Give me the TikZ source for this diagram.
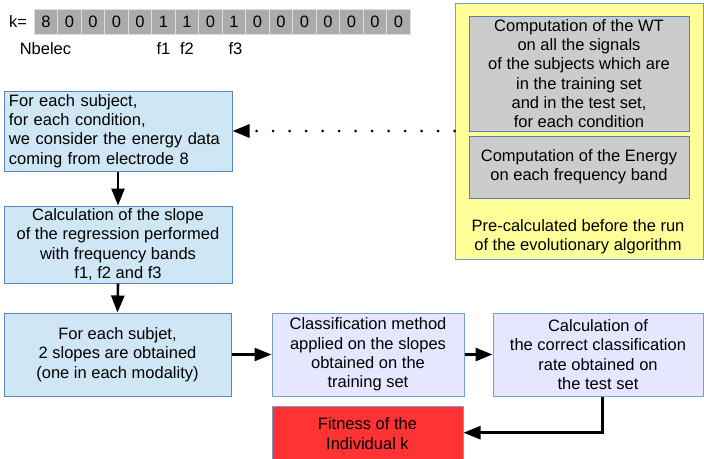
\documentclass[tikz,border=0pt]{standalone}
\usepackage{fontspec}
\setmainfont{Liberation Sans}
\usetikzlibrary{arrows.meta}
\definecolor{bluefill}{HTML}{CFE7F5}
\definecolor{blueline}{HTML}{3465A4}
\definecolor{lineb}{HTML}{729FCF}
\definecolor{purpfill}{HTML}{E6E6FF}
\definecolor{yelfill}{HTML}{FFFF99}
\definecolor{greyfill}{HTML}{CCCCCC}
\definecolor{redfill}{HTML}{FF3333}
\definecolor{cellfill}{HTML}{ABABAB}
\definecolor{cellline}{HTML}{DDDDDD}
\tikzset{
  txt/.style={font=\fontsize{16.5pt}{19.3pt}\selectfont, inner sep=0pt, text=black},
  boxbase/.style={txt, line width=1pt, align=center},
  bluebox/.style={boxbase, draw=blueline!80, fill=bluefill},
  purpbox/.style={boxbase, draw=lineb, fill=purpfill},
  greybox/.style={boxbase, draw=lineb!80!black, fill=greyfill},
  yelbox/.style={boxbase, draw=lineb, fill=yelfill},
  redbox/.style={boxbase, draw=lineb, fill=redfill},
  cell/.style={txt, fill=cellfill, draw=cellline, line width=0.8pt, minimum width=23.5pt, minimum height=25pt},
  arr/.style={line width=2.6pt, -{Triangle[length=17pt,width=13pt]}},
  dotarr/.style={line width=3pt, dash pattern=on 0pt off 16.5pt, line cap=round, -{Triangle[length=17pt,width=13pt]}}
}
\begin{document}
\begin{tikzpicture}[x=1pt,y=-1pt]
\useasboundingbox (0,0) rectangle (704,458);
% top chromosome
\node[txt] (k) at (18,21.5) {k=};
\foreach \v [count=\i] in {8,0,0,0,0,1,1,0,1,0,0,0,0,0,0,0}{
  \node[cell] (c\i) at ({34.3+23.5*(\i-0.5)},21.5) {\v};
}
\node[txt] (nb) at (45.5,48.5) {Nbelec};
\node[txt] (f1) at (163.5,48.5) {f1};
\node[txt] (f2) at (187,48.5) {f2};
\node[txt] (f3) at (235.5,48.5) {f3};
% yellow panel
\node[yelbox, minimum width=248pt, minimum height=256pt] (yel) at (579,131) {};
\node[greybox, minimum width=220pt, minimum height=115pt] (g1) at (579,73.5) {Computation of the WT\\on all the signals\\of the subjects which are\\in the training set\\and in the test set,\\for each condition};
\node[greybox, minimum width=220pt, minimum height=62pt] (g2) at (579,167) {Computation of the Energy\\on each frequency band};
\node[txt, align=center] (pre) at (578,236.5) {Pre-calculated before the run\\of the evolutionary algorithm};
% left column
\node[bluebox, minimum width=228pt, minimum height=80pt, text width=218pt, align=left] (b1) at (118,131) {For each subject,\\for each condition,\\we consider the energy data\\coming from electrode 8};
\node[bluebox, minimum width=228pt, minimum height=77pt] (b2) at (118,244.5) {Calculation of the slope\\of the regression performed\\with frequency bands\\f1, f2 and f3};
\node[bluebox, minimum width=227pt, minimum height=83pt] (b3) at (117.5,354.5) {For each subjet,\\2 slopes are obtained\\(one in each modality)};
\node[purpbox, minimum width=192pt, minimum height=83pt] (p1) at (368,354.5) {Classification method\\applied on the slopes\\obtained on the\\training set};
\node[purpbox, minimum width=210pt, minimum height=83pt] (p2) at (598,354.5) {Calculation of\\the correct classification\\rate obtained on\\the test set};
\node[redbox, minimum width=191pt, minimum height=58pt] (red) at (367.5,435) {};
\node[txt, align=center] (redt) at (367.5,433.5) {Fitness of the\\Individual k};
% connectors
\draw[dotarr] (yel.west) -- (b1.east);
\draw[arr] (b1.south) -- (b2.north);
\draw[arr] (b2.south) -- (b3.north);
\draw[arr] (b3.east) -- (p1.west);
\draw[arr] (p1.east) -- (p2.west);
\draw[arr] (p2.south -| 602.7,0) -- (602.7,432.7) -- (red.east |- 0,432.7);
\end{tikzpicture}
\end{document}
